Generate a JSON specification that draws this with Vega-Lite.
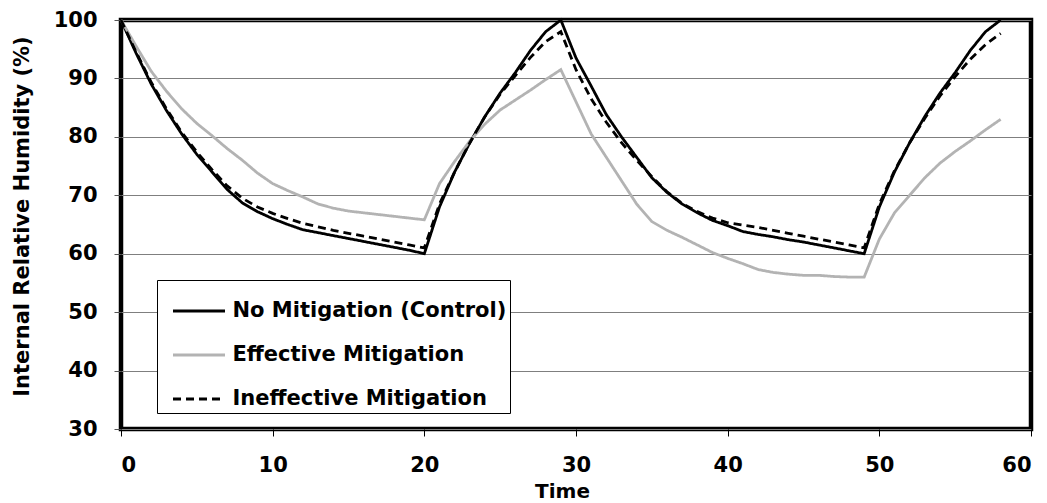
{
  "$schema": "https://vega.github.io/schema/vega-lite/v6.json",
  "width": 910,
  "height": 409,
  "autosize": "none",
  "padding": {"left": 121, "top": 20, "right": 16, "bottom": 74},
  "background": "white",
  "config": {
    "view": {"stroke": "black", "strokeWidth": 4.5},
    "font": "DejaVu Sans",
    "legend": {
      "orient": "none",
      "legendX": 36,
      "legendY": 260,
      "strokeColor": "black",
      "fillColor": "white",
      "padding": 3.5,
      "symbolType": "stroke",
      "symbolSize": 2704,
      "symbolStrokeWidth": 2.8,
      "symbolOffset": 11,
      "labelFont": "DejaVu Sans",
      "labelFontSize": 21,
      "labelFontWeight": "bold",
      "labelColor": "black",
      "labelOffset": 6,
      "labelLimit": 500,
      "rowPadding": 6
    }
  },
  "data": {
    "values": [
      {"t": 0, "No Mitigation (Control)": 100, "Effective Mitigation": 100, "Ineffective Mitigation": 100},
      {"t": 1, "No Mitigation (Control)": 94.3, "Effective Mitigation": 95.5, "Ineffective Mitigation": 94.5},
      {"t": 2, "No Mitigation (Control)": 89, "Effective Mitigation": 91.2, "Ineffective Mitigation": 89.3},
      {"t": 3, "No Mitigation (Control)": 84.5, "Effective Mitigation": 87.8, "Ineffective Mitigation": 84.8},
      {"t": 4, "No Mitigation (Control)": 80.5, "Effective Mitigation": 84.8, "Ineffective Mitigation": 80.8},
      {"t": 5, "No Mitigation (Control)": 77, "Effective Mitigation": 82.3, "Ineffective Mitigation": 77.4},
      {"t": 6, "No Mitigation (Control)": 74, "Effective Mitigation": 80.2, "Ineffective Mitigation": 74.4},
      {"t": 7, "No Mitigation (Control)": 71, "Effective Mitigation": 78, "Ineffective Mitigation": 71.6},
      {"t": 8, "No Mitigation (Control)": 68.7, "Effective Mitigation": 76, "Ineffective Mitigation": 69.5},
      {"t": 9, "No Mitigation (Control)": 67.2, "Effective Mitigation": 73.8, "Ineffective Mitigation": 68},
      {"t": 10, "No Mitigation (Control)": 66, "Effective Mitigation": 72, "Ineffective Mitigation": 66.9},
      {"t": 11, "No Mitigation (Control)": 65, "Effective Mitigation": 70.8, "Ineffective Mitigation": 66},
      {"t": 12, "No Mitigation (Control)": 64.1, "Effective Mitigation": 69.7, "Ineffective Mitigation": 65.2},
      {"t": 13, "No Mitigation (Control)": 63.6, "Effective Mitigation": 68.5, "Ineffective Mitigation": 64.6},
      {"t": 14, "No Mitigation (Control)": 63.1, "Effective Mitigation": 67.8, "Ineffective Mitigation": 64},
      {"t": 15, "No Mitigation (Control)": 62.6, "Effective Mitigation": 67.3, "Ineffective Mitigation": 63.5},
      {"t": 16, "No Mitigation (Control)": 62.1, "Effective Mitigation": 67, "Ineffective Mitigation": 63},
      {"t": 17, "No Mitigation (Control)": 61.6, "Effective Mitigation": 66.7, "Ineffective Mitigation": 62.5},
      {"t": 18, "No Mitigation (Control)": 61.1, "Effective Mitigation": 66.4, "Ineffective Mitigation": 62},
      {"t": 19, "No Mitigation (Control)": 60.6, "Effective Mitigation": 66.1, "Ineffective Mitigation": 61.5},
      {"t": 20, "No Mitigation (Control)": 60, "Effective Mitigation": 65.8, "Ineffective Mitigation": 61},
      {"t": 21, "No Mitigation (Control)": 68, "Effective Mitigation": 72, "Ineffective Mitigation": 68.5},
      {"t": 22, "No Mitigation (Control)": 74, "Effective Mitigation": 75.8, "Ineffective Mitigation": 74},
      {"t": 23, "No Mitigation (Control)": 79, "Effective Mitigation": 79.3, "Ineffective Mitigation": 79},
      {"t": 24, "No Mitigation (Control)": 83.5, "Effective Mitigation": 82.2, "Ineffective Mitigation": 83.5},
      {"t": 25, "No Mitigation (Control)": 87.5, "Effective Mitigation": 84.6, "Ineffective Mitigation": 87.3},
      {"t": 26, "No Mitigation (Control)": 91, "Effective Mitigation": 86.3, "Ineffective Mitigation": 90.5},
      {"t": 27, "No Mitigation (Control)": 94.8, "Effective Mitigation": 88, "Ineffective Mitigation": 93.6},
      {"t": 28, "No Mitigation (Control)": 98, "Effective Mitigation": 89.8, "Ineffective Mitigation": 96.3},
      {"t": 29, "No Mitigation (Control)": 100, "Effective Mitigation": 91.5, "Ineffective Mitigation": 98},
      {"t": 30, "No Mitigation (Control)": 93.5, "Effective Mitigation": 86, "Ineffective Mitigation": 91.5},
      {"t": 31, "No Mitigation (Control)": 88.7, "Effective Mitigation": 80.5, "Ineffective Mitigation": 86.5},
      {"t": 32, "No Mitigation (Control)": 83.8, "Effective Mitigation": 76.5, "Ineffective Mitigation": 82.5},
      {"t": 33, "No Mitigation (Control)": 80, "Effective Mitigation": 72.5, "Ineffective Mitigation": 79},
      {"t": 34, "No Mitigation (Control)": 76.5, "Effective Mitigation": 68.5, "Ineffective Mitigation": 76},
      {"t": 35, "No Mitigation (Control)": 73, "Effective Mitigation": 65.5, "Ineffective Mitigation": 73.2},
      {"t": 36, "No Mitigation (Control)": 70.5, "Effective Mitigation": 64, "Ineffective Mitigation": 70.6},
      {"t": 37, "No Mitigation (Control)": 68.5, "Effective Mitigation": 62.8, "Ineffective Mitigation": 68.6},
      {"t": 38, "No Mitigation (Control)": 67, "Effective Mitigation": 61.5, "Ineffective Mitigation": 67.2},
      {"t": 39, "No Mitigation (Control)": 65.7, "Effective Mitigation": 60.2, "Ineffective Mitigation": 66.1},
      {"t": 40, "No Mitigation (Control)": 64.8, "Effective Mitigation": 59.2, "Ineffective Mitigation": 65.3},
      {"t": 41, "No Mitigation (Control)": 63.8, "Effective Mitigation": 58.3, "Ineffective Mitigation": 64.9},
      {"t": 42, "No Mitigation (Control)": 63.3, "Effective Mitigation": 57.3, "Ineffective Mitigation": 64.5},
      {"t": 43, "No Mitigation (Control)": 62.9, "Effective Mitigation": 56.8, "Ineffective Mitigation": 64},
      {"t": 44, "No Mitigation (Control)": 62.4, "Effective Mitigation": 56.5, "Ineffective Mitigation": 63.5},
      {"t": 45, "No Mitigation (Control)": 62, "Effective Mitigation": 56.3, "Ineffective Mitigation": 63},
      {"t": 46, "No Mitigation (Control)": 61.5, "Effective Mitigation": 56.3, "Ineffective Mitigation": 62.5},
      {"t": 47, "No Mitigation (Control)": 61, "Effective Mitigation": 56.1, "Ineffective Mitigation": 62},
      {"t": 48, "No Mitigation (Control)": 60.5, "Effective Mitigation": 56, "Ineffective Mitigation": 61.5},
      {"t": 49, "No Mitigation (Control)": 60, "Effective Mitigation": 56, "Ineffective Mitigation": 61},
      {"t": 50, "No Mitigation (Control)": 68, "Effective Mitigation": 62.5, "Ineffective Mitigation": 68.5},
      {"t": 51, "No Mitigation (Control)": 74, "Effective Mitigation": 67, "Ineffective Mitigation": 74.2},
      {"t": 52, "No Mitigation (Control)": 79, "Effective Mitigation": 70, "Ineffective Mitigation": 79},
      {"t": 53, "No Mitigation (Control)": 83.5, "Effective Mitigation": 73, "Ineffective Mitigation": 83.2},
      {"t": 54, "No Mitigation (Control)": 87.5, "Effective Mitigation": 75.5, "Ineffective Mitigation": 87},
      {"t": 55, "No Mitigation (Control)": 91, "Effective Mitigation": 77.5, "Ineffective Mitigation": 90.3},
      {"t": 56, "No Mitigation (Control)": 94.8, "Effective Mitigation": 79.3, "Ineffective Mitigation": 93.3},
      {"t": 57, "No Mitigation (Control)": 98, "Effective Mitigation": 81.2, "Ineffective Mitigation": 95.8},
      {"t": 58, "No Mitigation (Control)": 100, "Effective Mitigation": 83, "Ineffective Mitigation": 97.7}
    ]
  },
  "transform": [
    {"fold": ["No Mitigation (Control)", "Effective Mitigation", "Ineffective Mitigation"], "as": ["series", "rh"]}
  ],
  "mark": {"type": "line", "strokeWidth": 2.8, "interpolate": "linear"},
  "encoding": {
    "x": {
      "field": "t",
      "type": "quantitative",
      "scale": {"domain": [0, 60], "nice": false},
      "axis": {
        "values": [0, 10, 20, 30, 40, 50, 60],
        "title": "Time",
        "grid": false,
        "domain": false,
        "tickColor": "black",
        "tickSize": 7,
        "tickWidth": 1,
        "labelFont": "DejaVu Sans",
        "labelFontSize": 21,
        "labelFontWeight": "bold",
        "labelColor": "black",
        "labelPadding": 18,
        "titleFont": "DejaVu Sans",
        "titleFontSize": 20,
        "titleFontWeight": "bold",
        "titleColor": "black",
        "titlePadding": 6,
        "titleX": 441
      }
    },
    "y": {
      "field": "rh",
      "type": "quantitative",
      "scale": {"domain": [30, 100], "nice": false, "zero": false},
      "axis": {
        "values": [30, 40, 50, 60, 70, 80, 90, 100],
        "title": "Internal Relative Humidity (%)",
        "grid": true,
        "gridColor": "#7f7f7f",
        "gridWidth": 1,
        "gridOpacity": 1,
        "domain": false,
        "tickColor": "#555555",
        "tickSize": 7,
        "tickWidth": 1,
        "labelFont": "DejaVu Sans",
        "labelFontSize": 21,
        "labelFontWeight": "bold",
        "labelColor": "black",
        "labelPadding": 17,
        "titleFont": "DejaVu Sans",
        "titleFontSize": 21,
        "titleFontWeight": "bold",
        "titleColor": "black",
        "titlePadding": 21,
        "titleY": 196
      }
    },
    "color": {
      "field": "series",
      "type": "nominal",
      "scale": {"domain": ["No Mitigation (Control)", "Effective Mitigation", "Ineffective Mitigation"], "range": ["#000000", "#b3b3b3", "#000000"]},
      "legend": {"title": null}
    },
    "strokeDash": {
      "field": "series",
      "type": "nominal",
      "scale": {"domain": ["No Mitigation (Control)", "Effective Mitigation", "Ineffective Mitigation"], "range": [[1, 0], [1, 0], [8, 5]]},
      "legend": {"title": null}
    }
  }
}
